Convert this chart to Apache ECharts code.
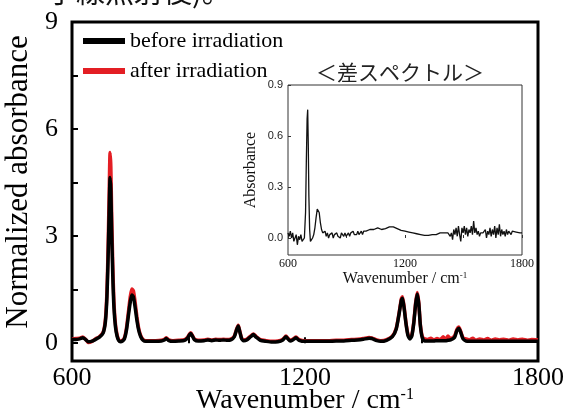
<!DOCTYPE html>
<html>
<head>
<meta charset="utf-8">
<script src="https://cdn.jsdelivr.net/npm/echarts@6/dist/echarts.min.js"></script>
<style>
  html, body { margin: 0; padding: 0; background: #fff; }
  #chart { width: 564px; height: 410px; }
</style>
</head>
<body>
<div id="chart"></div>
<script>
// main spectrum (normalized)
var wnMain = [
  600, 610, 620, 628, 635, 642, 650, 660, 670, 680,
  686, 690, 693, 696, 698, 700, 702, 705, 708, 712,
  716, 720, 725, 730, 735, 740, 745, 750, 754, 758,
  762, 767, 772, 777, 783, 790, 800, 815, 830, 838,
  843, 848, 860, 875, 890, 898, 903, 906, 910, 915,
  925, 940, 950, 960, 970, 980, 990, 1000, 1010, 1018,
  1024, 1028, 1032, 1037, 1042, 1050, 1060, 1067, 1074, 1085,
  1100, 1115, 1130, 1143, 1151, 1156, 1162, 1170, 1177, 1185,
  1200, 1220, 1240, 1260, 1280, 1300, 1320, 1335, 1350, 1365,
  1372, 1385, 1395, 1410, 1425, 1435, 1442, 1448, 1451, 1455,
  1460, 1465, 1470, 1475, 1480, 1485, 1489, 1493, 1497, 1502,
  1508, 1516, 1524, 1532, 1540, 1548, 1556, 1562, 1568, 1575,
  1585, 1591, 1596, 1601, 1607, 1615, 1624, 1632, 1640, 1650,
  1660, 1670, 1680, 1690, 1700, 1712, 1724, 1736, 1748, 1760,
  1772, 1784, 1800
];
var before = [
  0.10, 0.10, 0.12, 0.15, 0.10, 0.04, 0.05, 0.10, 0.16, 0.28,
  0.60, 1.30, 2.40, 3.80, 4.64, 4.30, 3.20, 1.90, 1.00, 0.45,
  0.20, 0.08, 0.04, 0.06, 0.12, 0.35, 0.75, 1.15, 1.35, 1.30,
  1.05, 0.65, 0.35, 0.18, 0.08, 0.05, 0.05, 0.05, 0.06, 0.09,
  0.13, 0.08, 0.05, 0.06, 0.08, 0.15, 0.24, 0.27, 0.20, 0.10,
  0.06, 0.07, 0.09, 0.07, 0.09, 0.08, 0.09, 0.08, 0.10, 0.18,
  0.38, 0.48, 0.32, 0.12, 0.07, 0.09, 0.18, 0.24, 0.17, 0.08,
  0.05, 0.03, 0.04, 0.09, 0.18, 0.12, 0.06, 0.10, 0.15, 0.08,
  0.05, 0.05, 0.05, 0.05, 0.06, 0.06, 0.08, 0.09, 0.11, 0.14,
  0.13, 0.07, 0.05, 0.08, 0.18, 0.40, 0.80, 1.20, 1.26, 1.00,
  0.55, 0.22, 0.12, 0.20, 0.55, 1.10, 1.38, 1.10, 0.50, 0.15,
  0.06, 0.06, 0.06, 0.06, 0.07, 0.07, 0.07, 0.07, 0.08, 0.09,
  0.16, 0.35, 0.42, 0.30, 0.12, 0.06, 0.05, 0.05, 0.05, 0.05,
  0.05, 0.05, 0.05, 0.05, 0.05, 0.05, 0.05, 0.05, 0.05, 0.05,
  0.05, 0.05, 0.05
];
var after = [
  0.12, 0.13, 0.14, 0.17, 0.11, 0.02, 0.04, 0.12, 0.18, 0.30,
  0.66, 1.45, 2.70, 4.40, 5.34, 4.95, 3.70, 2.20, 1.15, 0.52,
  0.24, 0.10, 0.06, 0.08, 0.15, 0.40, 0.85, 1.30, 1.52, 1.47,
  1.20, 0.75, 0.40, 0.21, 0.10, 0.07, 0.07, 0.07, 0.08, 0.11,
  0.15, 0.10, 0.07, 0.08, 0.10, 0.17, 0.26, 0.29, 0.22, 0.12,
  0.08, 0.09, 0.11, 0.09, 0.11, 0.10, 0.11, 0.10, 0.12, 0.20,
  0.40, 0.50, 0.34, 0.14, 0.09, 0.11, 0.20, 0.26, 0.19, 0.10,
  0.07, 0.05, 0.06, 0.11, 0.20, 0.14, 0.08, 0.12, 0.17, 0.10,
  0.07, 0.07, 0.07, 0.07, 0.08, 0.08, 0.10, 0.11, 0.13, 0.16,
  0.15, 0.09, 0.07, 0.10, 0.20, 0.42, 0.83, 1.24, 1.30, 1.04,
  0.58, 0.25, 0.15, 0.23, 0.58, 1.14, 1.42, 1.14, 0.53, 0.19,
  0.12, 0.10, 0.14, 0.09, 0.13, 0.10, 0.18, 0.09, 0.20, 0.12,
  0.20, 0.38, 0.45, 0.33, 0.15, 0.12, 0.09, 0.14, 0.08, 0.12,
  0.09, 0.13, 0.08, 0.12, 0.09, 0.11, 0.08, 0.12, 0.09, 0.11,
  0.08, 0.10, 0.09
];

// difference spectrum (inset)
var wnDiff = [
  600, 606, 612, 618, 624, 630, 636, 642, 648, 654,
  660, 666, 672, 678, 684, 690, 694, 698, 701, 704,
  707, 711, 715, 720, 726, 732, 738, 744, 750, 755,
  760, 766, 772, 778, 784, 790, 796, 802, 808, 814,
  820, 826, 832, 838, 844, 850, 856, 862, 868, 874,
  880, 886, 892, 898, 904, 910, 916, 922, 928, 934,
  940, 946, 952, 958, 964, 970, 976, 982, 988, 994,
  1000, 1010, 1020, 1030, 1040, 1050, 1060, 1070, 1080, 1090,
  1100, 1110, 1120, 1130, 1140, 1150, 1160, 1170, 1180, 1190,
  1200, 1210, 1220, 1230, 1240, 1250, 1260, 1270, 1280, 1290,
  1300, 1310, 1320, 1330, 1340, 1350, 1360, 1370, 1380, 1390,
  1400, 1410, 1420, 1426, 1432, 1438, 1444, 1450, 1456, 1462,
  1468, 1474, 1480, 1486, 1492, 1498, 1504, 1510, 1516, 1522,
  1528, 1534, 1540, 1546, 1552, 1558, 1564, 1570, 1576, 1582,
  1588, 1594, 1600, 1606, 1612, 1618, 1624, 1630, 1636, 1642,
  1648, 1654, 1660, 1666, 1672, 1678, 1684, 1690, 1696, 1702,
  1708, 1714, 1720, 1726, 1732, 1738, 1744, 1750, 1760, 1770,
  1780, 1790, 1800
];
var diff = [
  0.03, 0.01, 0.04, 0.00, 0.03, -0.02, -0.03, 0.02, -0.04, 0.01,
  -0.01, 0.02, -0.02, -0.01, 0.00, 0.15, 0.45, 0.70, 0.755, 0.55,
  0.25, 0.05, -0.02, -0.01, 0.00, 0.02, 0.06, 0.12, 0.17, 0.18,
  0.15, 0.09, 0.05, 0.03, 0.02, 0.04, 0.01, 0.03, 0.00, 0.02,
  0.01, 0.03, 0.00, 0.02, 0.01, 0.03, 0.01, 0.02, 0.00, 0.03,
  0.02, 0.01, 0.03, 0.01, 0.02, 0.03, 0.01, 0.03, 0.02, 0.04,
  0.02, 0.03, 0.02, 0.04, 0.02, 0.03, 0.04, 0.02, 0.04, 0.03,
  0.04, 0.03, 0.05, 0.04, 0.05, 0.04, 0.06, 0.05, 0.05, 0.06,
  0.055, 0.06, 0.065, 0.06, 0.065, 0.06, 0.055, 0.05, 0.045, 0.05,
  0.04, 0.04, 0.035, 0.03, 0.03, 0.025, 0.025, 0.02, 0.02, 0.02,
  0.015, 0.02, 0.015, 0.02, 0.02, 0.025, 0.02, 0.025, 0.03, 0.025,
  0.03, 0.02, 0.03, 0.04, 0.01, 0.03, -0.01, 0.05, 0.02, 0.06,
  0.01, 0.07, 0.02, -0.02, 0.06, 0.03, 0.07, 0.02, 0.06, 0.01,
  0.05, 0.03, 0.07, 0.02, 0.10, 0.03, 0.06, 0.02, 0.04, 0.01,
  0.03, 0.02, 0.03, 0.02, 0.05, 0.00, 0.04, 0.02, 0.06, 0.01,
  0.05, 0.02, 0.07, 0.00, 0.06, 0.02, 0.08, 0.01, 0.05, 0.02,
  0.04, 0.01, 0.05, 0.02, 0.04, 0.03, 0.02, 0.04, 0.03, 0.035,
  0.025, 0.03, 0.03
];

var mainYLabels = [0, 3, 6, 9];
var mainYTicks = [0, 1.5, 3, 4.5, 6, 7.5, 9];
var insetYLabels = [0, 0.3, 0.6, 0.9];

function pairs(xs, ys) {
  return xs.map(function (x, i) { return [x, ys[i]]; });
}
function plain(v) {
  return String(v);
}

var serif = "Liberation Serif";
var myChart = echarts.init(document.getElementById("chart"));

myChart.setOption({
  animation: false,
  backgroundColor: "#fff",
  graphic: [
    {
      type: "text",
      left: 47,
      top: -23,
      style: { text: "子線照射後)。", font: "29px 'Noto Sans CJK JP'", fill: "#111" },
    },
    {
      type: "text",
      x: 400,
      y: 72,
      style: {
        text: "＜差スペクトル＞",
        font: "21px 'Noto Sans CJK JP'",
        fill: "#222",
        align: "center",
        verticalAlign: "middle",
      },
    },
  ],
  legend: {
    orient: "vertical",
    left: 83,
    top: 30,
    padding: 0,
    itemWidth: 42,
    itemHeight: 6,
    itemGap: 8,
    icon: "rect",
    data: ["before irradiation", "after irradiation"],
    textStyle: { fontFamily: serif, fontSize: 22, color: "#000" },
  },
  grid: [
    {
      left: 72, top: 22, right: 26, bottom: 49,
      outerBoundsMode: "none",
      show: true, borderColor: "#000", borderWidth: 3,
    },
    {
      left: 288, top: 85, right: 42, bottom: 155,
      outerBoundsMode: "none",
      show: true, borderColor: "#333", borderWidth: 1,
    },
  ],
  xAxis: [
    {
      gridIndex: 0,
      type: "value",
      min: 600,
      max: 1800,
      interval: 600,
      name: "Wavenumber / cm{sup|-1}",
      nameLocation: "middle",
      nameGap: 26,
      nameMoveOverlap: false,
      nameTextStyle: {
        fontFamily: serif,
        fontSize: 28,
        color: "#000",
        rich: { sup: { fontFamily: serif, fontSize: 16, verticalAlign: "top", padding: [0, 0, 12, 0] } },
      },
      axisLine: { show: false },
      axisTick: { inside: true, length: 6, lineStyle: { width: 2, color: "#000" } },
      minorTick: { show: true, splitNumber: 2, length: 6, lineStyle: { width: 2, color: "#000" } },
      splitLine: { show: false },
      axisLabel: { fontFamily: serif, fontSize: 26, color: "#000", margin: 4, formatter: plain },
    },
    {
      gridIndex: 1,
      type: "value",
      min: 600,
      max: 1800,
      interval: 600,
      name: "Wavenumber / cm{sup|-1}",
      nameLocation: "middle",
      nameGap: 13,
      nameTextStyle: {
        fontFamily: serif,
        fontSize: 16,
        color: "#111",
        rich: { sup: { fontFamily: serif, fontSize: 9, verticalAlign: "top", padding: [0, 0, 7, 0] } },
      },
      axisLine: { show: false },
      axisTick: { inside: true, length: 3, lineStyle: { color: "#333" } },
      minorTick: { show: true, splitNumber: 2, length: 3, lineStyle: { color: "#333" } },
      splitLine: { show: false },
      axisLabel: { fontFamily: serif, fontSize: 12, color: "#111", margin: 3, formatter: plain },
    },
  ],
  yAxis: [
    {
      gridIndex: 0,
      type: "value",
      min: -0.5,
      max: 9,
      name: "Normalized absorbance",
      nameLocation: "middle",
      nameGap: 36,
      nameTextStyle: { fontFamily: serif, fontSize: 31, color: "#000", padding: [0, 0, 0, 19] },
      axisLine: { show: false },
      axisTick: {
        inside: true,
        length: 6,
        customValues: mainYTicks,
        lineStyle: { width: 2, color: "#000" },
      },
      splitLine: { show: false },
      axisLabel: { fontFamily: serif, fontSize: 26, color: "#000", margin: 14, customValues: mainYLabels },
    },
    {
      gridIndex: 1,
      type: "value",
      min: -0.1,
      max: 0.9,
      name: "Absorbance",
      nameLocation: "middle",
      nameGap: 29,
      nameTextStyle: { fontFamily: serif, fontSize: 16, color: "#111" },
      axisLine: { show: false },
      axisTick: { inside: true, length: 3, customValues: insetYLabels, lineStyle: { color: "#333" } },
      splitLine: { show: false },
      axisLabel: {
        fontFamily: "Liberation Sans",
        fontSize: 11,
        color: "#222",
        margin: 5,
        customValues: insetYLabels,
        formatter: function (v) { return v.toFixed(1); },
      },
    },
  ],
  series: [
    {
      name: "after irradiation",
      type: "line",
      xAxisIndex: 0,
      yAxisIndex: 0,
      data: pairs(wnMain, after),
      color: "#e31e24",
      showSymbol: false,
      smooth: 0.2,
      lineStyle: { color: "#e31e24", width: 3.5 },
    },
    {
      name: "before irradiation",
      type: "line",
      xAxisIndex: 0,
      yAxisIndex: 0,
      data: pairs(wnMain, before),
      color: "#000",
      showSymbol: false,
      smooth: 0.2,
      lineStyle: { color: "#000", width: 3.5 },
    },
    {
      name: "diff",
      type: "line",
      xAxisIndex: 1,
      yAxisIndex: 1,
      data: pairs(wnDiff, diff),
      color: "#111",
      showSymbol: false,
      lineStyle: { color: "#111", width: 1.3 },
    },
  ],
});
</script>
</body>
</html>
